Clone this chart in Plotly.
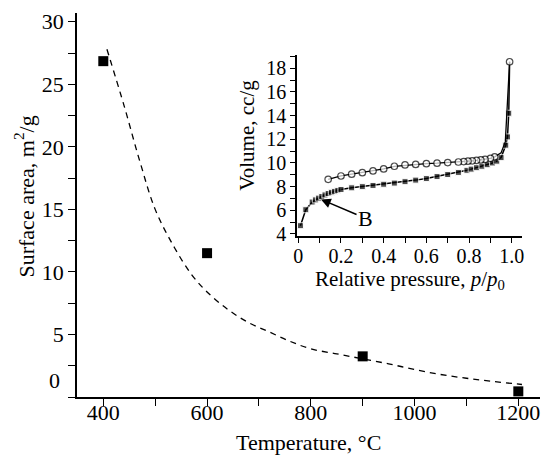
import plotly.graph_objects as go

# Main chart data
temp = [400, 600, 900, 1200]
area = [26.85, 11.5, 3.25, 0.45]

curve_temp = [407, 440, 470, 500, 535, 570, 600, 640, 680, 720, 760, 800, 850, 900, 950, 1000, 1050, 1100, 1150, 1207]
curve_area = [27.8, 23.3, 18.9, 15.0, 12.1, 9.8, 8.4, 7.0, 5.95, 5.2, 4.45, 3.85, 3.45, 3.05, 2.65, 2.2, 1.8, 1.5, 1.25, 1.0]

# Inset data
ads_p = [0.01, 0.035, 0.065, 0.08, 0.095, 0.11, 0.125, 0.14, 0.155, 0.17, 0.185, 0.2, 0.25, 0.3,
         0.35, 0.4, 0.45, 0.5, 0.55, 0.6, 0.65, 0.7, 0.75, 0.79, 0.81, 0.835, 0.86, 0.885, 0.91,
         0.93, 0.95, 0.972, 0.98, 0.986, 0.99]
ads_v = [4.7, 6.05, 6.7, 6.88, 7.03, 7.17, 7.3, 7.42, 7.52, 7.6, 7.68, 7.76, 7.9, 8.0,
         8.1, 8.2, 8.3, 8.42, 8.55, 8.68, 8.85, 9.02, 9.2, 9.38, 9.48, 9.6, 9.72, 9.85, 10.0,
         10.15, 10.45, 11.5, 12.2, 14.2, 18.55]
des_p = [0.99, 0.97, 0.95, 0.92, 0.9, 0.875, 0.855, 0.835, 0.815, 0.795, 0.775, 0.75, 0.7, 0.65,
         0.6, 0.55, 0.5, 0.45, 0.4, 0.35, 0.3, 0.25, 0.2, 0.14]
des_v = [18.55, 11.8, 10.85, 10.52, 10.38, 10.3, 10.26, 10.22, 10.18, 10.15, 10.12, 10.08, 10.03, 9.98,
         9.94, 9.88, 9.83, 9.72, 9.5, 9.33, 9.18, 9.05, 8.9, 8.62]

x_ticks_main = [400, 600, 800, 1000, 1200]
y_ticks_main = [5, 10, 15, 20, 25, 30]
inset_x_ticks = [0, 0.2, 0.4, 0.6, 0.8, 1.0]
inset_x_text = ["0", "0.2", "0.4", "0.6", "0.8", "1.0"]
inset_y_ticks = [4, 6, 8, 10, 12, 14, 16, 18]

FONT = "Liberation Serif, Times New Roman, DejaVu Serif, serif"

ads_sizes = [6] * (len(ads_p) - 1) + [0]
des_sizes = [6.5, 0, 0] + [6.5] * (len(des_p) - 3)

fig = go.Figure()

fig.add_trace(go.Scatter(
    x=curve_temp, y=curve_area, mode="lines",
    line=dict(color="black", width=1.3, dash="6px,5px", shape="spline", smoothing=1.0),
    showlegend=False, hoverinfo="skip"))
fig.add_trace(go.Scatter(
    x=temp, y=area, mode="markers",
    marker=dict(symbol="square", size=10, color="black"),
    cliponaxis=False, showlegend=False))

fig.add_trace(go.Scatter(
    x=ads_p, y=ads_v, xaxis="x2", yaxis="y2", mode="lines+markers",
    line=dict(color="black", width=1.5),
    marker=dict(symbol="square", size=ads_sizes, color="black"),
    cliponaxis=False, showlegend=False))
fig.add_trace(go.Scatter(
    x=des_p, y=des_v, xaxis="x2", yaxis="y2", mode="lines+markers",
    line=dict(color="black", width=1.3),
    marker=dict(symbol="circle", size=des_sizes, color="white", line=dict(color="black", width=1.2)),
    cliponaxis=False, showlegend=False))

axis_common = dict(showgrid=False, zeroline=False, showline=True, linecolor="black",
                   linewidth=1.5, ticks="outside", tickcolor="black", tickwidth=1.3)

title_font_main = dict(size=22, family=FONT, color="black")
title_font_inset = dict(size=21, family=FONT, color="black")

fig.update_layout(
    width=545, height=456,
    margin=dict(l=77, r=5, t=13, b=59, autoexpand=False),
    paper_bgcolor="white", plot_bgcolor="white",
    font=dict(family=FONT, color="black", size=22),
    xaxis=dict(**axis_common, range=[349.3, 1241.8], tickvals=x_ticks_main, ticklen=7,
               minor=dict(dtick=100, tick0=0, ticks="outside", ticklen=7, tickcolor="black", tickwidth=1.3),
               tickfont=dict(size=22, family=FONT), ticklabelstandoff=-12),
    yaxis=dict(**axis_common, range=[0, 30.7], tickvals=y_ticks_main, ticklen=7,
               minor=dict(dtick=2.5, tick0=0, ticks="outside", ticklen=7, tickcolor="black", tickwidth=1.3),
               tickfont=dict(size=22, family=FONT)),
    xaxis2=dict(**axis_common, domain=[0.4752, 0.9611], anchor="y2", range=[-0.006, 1.048],
                tickvals=inset_x_ticks, ticktext=inset_x_text, ticklen=5,
                minor=dict(dtick=0.1, tick0=0, ticks="outside", ticklen=5, tickcolor="black", tickwidth=1.3),
                tickfont=dict(size=20, family=FONT), ticklabelstandoff=-4),
    yaxis2=dict(**axis_common, domain=[0.4193, 0.8906], anchor="x2", range=[3.83, 19.12],
                tickvals=inset_y_ticks, ticklen=5,
                minor=dict(dtick=1, tick0=0, ticks="outside", ticklen=5, tickcolor="black", tickwidth=1.3),
                tickfont=dict(size=20, family=FONT)),
    annotations=[
        dict(x=0.501, y=-0.119, xref="paper", yref="paper", text="Temperature, °C",
             showarrow=False, xanchor="center", yanchor="middle", font=title_font_main, borderpad=0),
        dict(x=-0.1145, y=0.522, xref="paper", yref="paper", text="Surface area, m<sup>2</sup>/g",
             showarrow=False, textangle=-90, xanchor="center", yanchor="middle", font=title_font_main),
        dict(x=0.7192, y=0.3047, xref="paper", yref="paper",
             text="Relative pressure, <i>p</i>/<i>p</i><sub>0</sub>",
             showarrow=False, xanchor="center", yanchor="middle", font=title_font_inset),
        dict(x=0.3665, y=0.6823, xref="paper", yref="paper", text="Volume, cc/g",
             showarrow=False, textangle=-90, xanchor="center", yanchor="middle", font=title_font_inset),
        dict(x=0.102, y=6.95, xref="x2", yref="y2", ax=0.315, ay=5.33, axref="x2", ayref="y2",
             text="B", showarrow=True, arrowhead=2, arrowsize=1.3, arrowwidth=1.5, arrowcolor="black",
             font=dict(size=22, family=FONT), standoff=1),
        dict(x=-0.033, y=1.3, xref="paper", yref="y", text="0", showarrow=False,
             xanchor="right", yanchor="middle", font=dict(size=22, family=FONT)),
    ],
)

fig.write_html("out.html", config={"displayModeBar": False},
               post_script="document.body.style.margin='0';document.body.style.padding='0';")
